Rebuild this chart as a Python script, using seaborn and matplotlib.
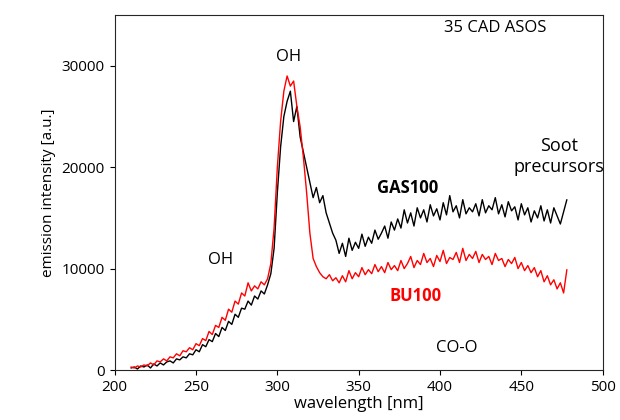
import numpy as np
import pandas as pd
import seaborn as sns
import matplotlib
matplotlib.use("Agg")
import matplotlib.pyplot as plt

wavelength = list(range(210, 480, 2))

# values in thousands of a.u.
gas100 = [0.2,0.3,0.1,0.4,0.3,0.5,0.2,0.6,0.4,0.7,0.5,0.8,0.9,0.7,1.1,1.0,1.3,1.2,1.6,1.5,
          2.0,1.8,2.5,2.3,3.0,2.8,3.6,3.3,4.2,3.9,4.8,4.5,5.5,5.2,6.1,6.0,6.8,6.4,7.3,7.0,7.8,7.5,8.4,9.5,12.0,
          17.5,22.0,25.0,26.5,27.5,24.5,26.0,23.0,21.5,20.0,
          18.5,17.0,18.0,16.5,17.2,15.5,14.5,13.5,12.8,11.5,
          12.5,11.2,13.0,11.8,12.6,12.0,13.4,12.2,13.1,12.5,13.8,12.9,13.5,14.2,13.0,14.6,13.8,14.9,14.0,15.8,
          14.5,15.5,14.2,16.0,15.0,15.8,14.6,16.3,15.2,15.9,14.8,16.5,15.3,17.2,15.6,16.2,15.0,16.8,15.4,16.0,
          15.6,16.4,15.2,16.8,15.5,16.2,15.8,17.0,15.4,16.3,15.1,16.6,15.7,16.1,14.8,16.4,15.3,16.0,14.6,15.7,
          15.0,16.2,14.7,15.8,14.5,16.0,15.2,14.4,15.6,16.8]

bu100 = [0.3,0.2,0.4,0.3,0.5,0.4,0.7,0.5,0.9,0.8,1.1,0.9,1.3,1.2,1.6,1.4,1.9,1.8,2.2,2.0,
         2.6,2.4,3.1,2.9,3.8,3.5,4.4,4.2,5.2,4.9,6.0,5.7,6.8,6.5,7.6,7.3,8.6,7.8,8.3,8.0,8.7,8.4,9.0,10.5,14.0,
         20.0,24.5,27.5,29.0,28.0,28.5,26.0,24.0,21.0,17.5,
         13.5,11.0,10.2,9.6,9.2,9.0,9.4,8.8,9.1,8.6,
         9.3,8.7,9.8,9.0,9.6,9.2,10.1,9.4,9.9,9.5,10.4,9.7,10.2,9.6,10.6,9.9,10.3,9.8,10.8,10.0,
         10.5,11.2,10.1,10.8,10.4,11.5,10.6,11.0,10.2,11.3,10.7,11.8,10.5,11.1,10.9,11.6,10.6,12.0,10.8,11.4,
         11.0,11.7,10.6,11.4,10.9,11.2,10.4,11.5,10.8,11.0,10.2,10.9,10.5,11.1,10.0,10.6,9.8,10.3,9.6,10.1,
         9.2,9.8,8.7,9.3,8.4,8.9,8.0,8.6,7.6,9.9]

df = pd.DataFrame({"wl": wavelength,
                   "GAS100": np.array(gas100) * 1000,
                   "BU100": np.array(bu100) * 1000})

sns.set_style("ticks")
plt.rcParams["font.family"] = ["Open Sans", "DejaVu Sans"]
plt.rcParams["text.color"] = "black"
plt.rcParams["axes.labelcolor"] = "black"
plt.rcParams["xtick.color"] = "black"
plt.rcParams["ytick.color"] = "black"

fig = plt.figure(figsize=(6.2, 4.2), dpi=100)
ax = fig.add_axes([0.185, 0.119, 0.787, 0.845])
sns.lineplot(data=df, x="wl", y="GAS100", color="black", lw=1, ax=ax)
sns.lineplot(data=df, x="wl", y="BU100", color="red", lw=1, ax=ax)

ax.set_xlim(200, 500)
ax.set_ylim(0, 35000)
ax.set_xticks(range(200, 501, 50))
ax.set_yticks([0, 10000, 20000, 30000])
ax.tick_params(labelsize=11)
ax.set_xlabel("wavelength [nm]", fontsize=12, labelpad=1)
ax.set_ylabel("emission intensity [a.u.]", fontsize=11)

ax.text(434, 33300, "35 CAD ASOS", fontsize=12, ha="center")
ax.text(307, 30500, "OH", fontsize=12, ha="center")
ax.text(265, 10500, "OH", fontsize=12, ha="center")
ax.text(473, 19500, "Soot\nprecursors", fontsize=13, ha="center", linespacing=1.2)
ax.text(380, 17500, "GAS100", fontsize=12, ha="center", fontweight="bold")
ax.text(385, 6800, "BU100", fontsize=12, ha="center", fontweight="bold", color="red")
ax.text(410, 1800, "CO-O", fontsize=12, ha="center")

fig.savefig("out.png", dpi=100)
